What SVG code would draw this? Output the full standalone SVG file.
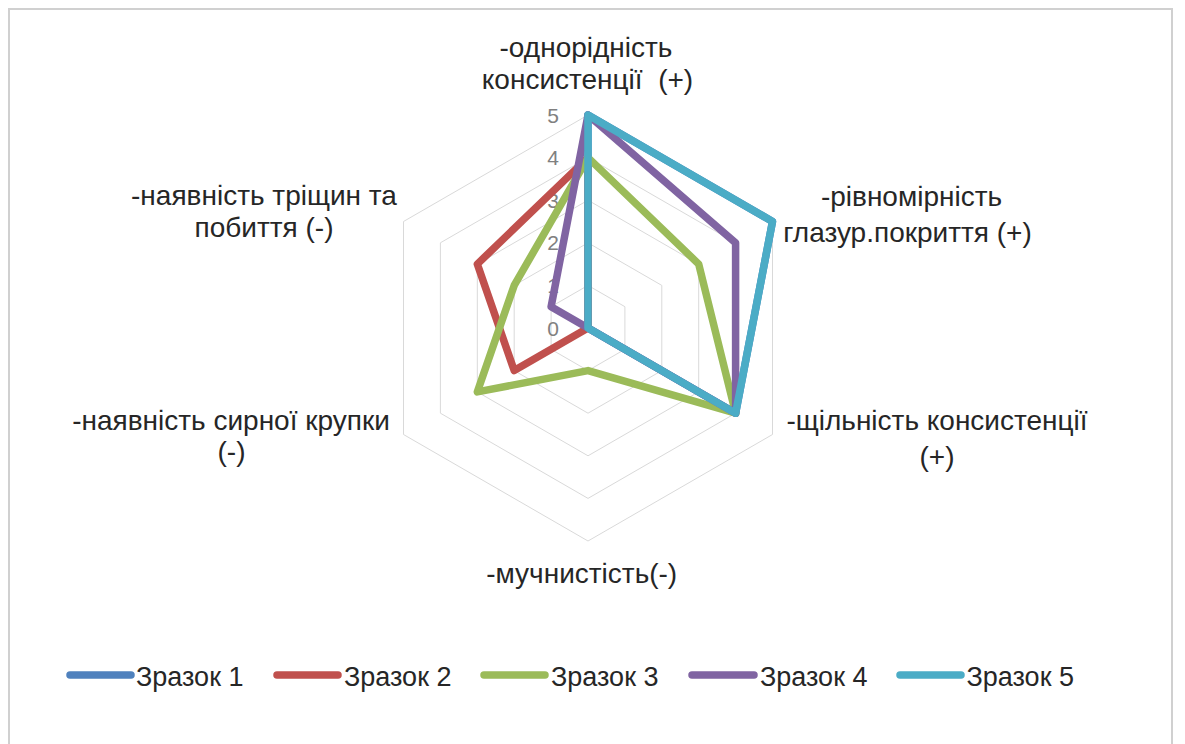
<svg xmlns="http://www.w3.org/2000/svg" width="1185" height="744" viewBox="0 0 1185 744">
<style>
.lbl{font-family:"Liberation Sans",Arial,sans-serif;font-size:28px;fill:#262626;text-anchor:middle}
.leg{font-family:"Liberation Sans",Arial,sans-serif;font-size:27px;fill:#262626}
.num{font-family:"Liberation Sans",Arial,sans-serif;font-size:21px;fill:#808080;text-anchor:end}
.grid{fill:none;stroke:#d9d9d9;stroke-width:1}
.ser{fill:none;stroke-width:7.5;stroke-linejoin:round;stroke-linecap:round}
.s1{stroke:#4F81BD}.s2{stroke:#C0504D}.s3{stroke:#9BBB59}.s4{stroke:#8064A2}.s5{stroke:#4BACC6}
</style>
<rect x="0" y="0" width="1185" height="744" fill="#ffffff"/>
<rect x="9" y="9" width="1163" height="760" fill="#ffffff" stroke="#d0d0d0" stroke-width="2"/>
<g id="grid">
<polygon class="grid" points="588,285.4 624.9,306.7 624.9,349.3 588,370.6 551.1,349.3 551.1,306.7"/>
<polygon class="grid" points="588,242.8 661.8,285.4 661.8,370.6 588,413.2 514.2,370.6 514.2,285.4"/>
<polygon class="grid" points="588,200.2 698.7,264.1 698.7,391.9 588,455.8 477.3,391.9 477.3,264.1"/>
<polygon class="grid" points="588,157.6 735.6,242.8 735.6,413.2 588,498.4 440.4,413.2 440.4,242.8"/>
<polygon class="grid" points="588,115 772.5,221.5 772.5,434.5 588,541 403.5,434.5 403.5,221.5"/>
</g>
<g id="axis-values">
<text class="num" x="559" y="335.5">0</text>
<text class="num" x="559" y="292.9">1</text>
<text class="num" x="559" y="250.3">2</text>
<text class="num" x="559" y="207.7">3</text>
<text class="num" x="559" y="165.1">4</text>
<text class="num" x="559" y="122.5">5</text>
</g>
<g id="series">
<polygon id="zrazok1" class="ser s1" points="588,115 772.5,221.5 735.6,413.2 588,328 588,328 588,328"/>
<polygon id="zrazok2" class="ser s2" points="588,157.6 588,328 588,328 588,328 514.2,370.6 477.3,264.1"/>
<polygon id="zrazok3" class="ser s3" points="588,157.6 698.7,264.1 735.6,413.2 588,370.6 477.3,391.9 514.2,285.4"/>
<polygon id="zrazok4" class="ser s4" points="588,115 735.6,242.8 735.6,413.2 588,328 588,328 551.1,306.7"/>
<polygon id="zrazok5" class="ser s5" points="588,115 772.5,221.5 735.6,413.2 588,328 588,328 588,328"/>
</g>
<g id="label-top">
<text class="lbl" x="586" y="57">-однорідність</text>
<text class="lbl" x="587.5" y="89">консистенції&#160; (+)</text>
</g>
<g id="label-upper-right">
<text class="lbl" x="911.5" y="206">-рівномірність</text>
<text class="lbl" x="907.5" y="242">глазур.покриття (+)</text>
</g>
<g id="label-lower-right">
<text class="lbl" x="937" y="430">-щільність консистенції</text>
<text class="lbl" x="937" y="466">(+)</text>
</g>
<g id="label-bottom">
<text class="lbl" x="581.7" y="583">-мучнистість(-)</text>
</g>
<g id="label-lower-left">
<text class="lbl" x="231" y="430">-наявність сирної крупки</text>
<text class="lbl" x="231.5" y="461">(-)</text>
</g>
<g id="label-upper-left">
<text class="lbl" x="264" y="205">-наявність тріщин та</text>
<text class="lbl" x="264" y="237">побиття (-)</text>
</g>
<g id="legend">
<line class="ser s1" x1="70" y1="675" x2="131" y2="675"/>
<text class="leg" x="136" y="686">Зразок 1</text>
<line class="ser s2" x1="277" y1="675" x2="338" y2="675"/>
<text class="leg" x="344" y="686">Зразок 2</text>
<line class="ser s3" x1="484" y1="675" x2="545" y2="675"/>
<text class="leg" x="551" y="686">Зразок 3</text>
<line class="ser s4" x1="692" y1="675" x2="754" y2="675"/>
<text class="leg" x="760" y="686">Зразок 4</text>
<line class="ser s5" x1="900" y1="675" x2="961" y2="675"/>
<text class="leg" x="966.5" y="686">Зразок 5</text>
</g>
</svg>
